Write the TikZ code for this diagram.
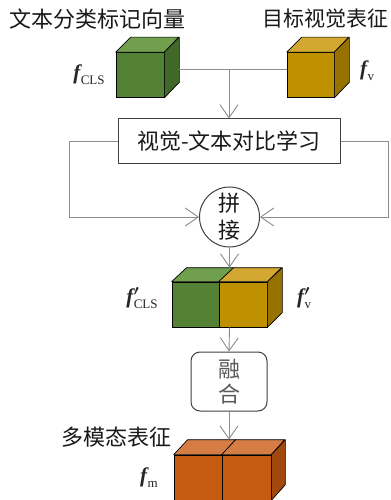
\documentclass[tikz,border=0pt]{standalone}
\usepackage{fontspec}
\setmainfont{Liberation Serif}
\newfontfamily\cjk{Noto Sans CJK SC}
\usetikzlibrary{arrows.meta,calc}
\definecolor{linegray}{HTML}{8C8C8C}
\definecolor{edgegray}{HTML}{404040}
\definecolor{gFront}{HTML}{548235}
\definecolor{gTop}{HTML}{70A04E}
\definecolor{gRight}{HTML}{3F6829}
\definecolor{yFront}{HTML}{BF9000}
\definecolor{yTop}{HTML}{D2A832}
\definecolor{yRight}{HTML}{977200}
\definecolor{oFront}{HTML}{C55A11}
\definecolor{oTop}{HTML}{D57D45}
\definecolor{oRight}{HTML}{A0480D}
\newcommand{\mkf}[1]{{\bfseries\itshape f}\kern0.5bp{\fontsize{13bp}{13bp}\selectfont\raisebox{-5bp}{#1}}}
\newcommand{\mkfp}[1]{{\bfseries\itshape f}\kern0.5bp\rlap{\raisebox{1bp}{$\boldsymbol{'}$}}{\fontsize{13bp}{13bp}\selectfont\raisebox{-5bp}{#1}}}
\usepackage{amsmath}
\tikzset{
  conn/.style={draw=linegray, line width=0.9bp},
  arr/.style={conn, -{Straight Barb[length=13bp,width=18bp,line width=0.9bp]}},
  face/.style={draw=black, line width=0.7bp, inner sep=0pt, minimum height=45bp},
  sideface/.style={draw=black, line width=0.7bp, line join=round},
  cn/.style={font=\cjk\fontsize{22bp}{26bp}\selectfont, text=black!90},
  flab/.style={font=\fontsize{21bp}{22bp}\selectfont, text=black!85, inner sep=0pt},
  boxed/.style={draw=edgegray, line width=1bp},
}
\begin{document}
\begin{tikzpicture}[x=1bp,y=-1bp]
\useasboundingbox (0,0) rectangle (390,500);
\clip (0,0) rectangle (390,500);
\fill[white] (0,0) rectangle (390,500);

% titles
\node[cn] (t1) at (97.5,19) {文本分类标记向量};
\node[cn, font=\cjk\fontsize{21bp}{25bp}\selectfont] (t2) at (325.5,19) {目标视觉表征};

% green cube
\node[face, fill=gFront, minimum width=48bp] (cls) at (140,75) {};
\fill[gTop, sideface] (cls.north west) -- ++(15,-15) -- ++(48,0) -- (cls.north east) -- cycle;
\fill[gRight, sideface] (cls.north east) -- ++(15,-15) -- ++(0,45) -- (cls.south east) -- cycle;
\node[flab] (lcls) at (89,75) {\mkf{CLS}};

% gold cube
\node[face, fill=yFront, minimum width=47bp] (vis) at (310.5,75) {};
\fill[yTop, sideface] (vis.north west) -- ++(15,-15) -- ++(47,0) -- (vis.north east) -- cycle;
\fill[yRight, sideface] (vis.north east) -- ++(15,-15) -- ++(0,45) -- (vis.south east) -- cycle;
\node[flab] (lv) at (367,71) {\mkf{v}};

% contrastive box
\node[boxed, cn, minimum width=222bp, minimum height=45bp, inner sep=0pt] (con) at (229,141.5) {视觉-文本对比学习};

% connectors top
\coordinate (gr) at ($(cls.east)+(15,-6)$);
\draw[conn] (gr) -- (gr -| vis.west);
\draw[arr] (gr -| con.north) -- (con.north);

% concat circle
\node[boxed, circle, minimum size=60bp, inner sep=0pt, cn, align=center, font=\cjk\fontsize{22bp}{27bp}\selectfont] (cat) at (229.5,217) {拼\\接};
\draw[arr] (con.west) -- ++(-48,0) |- (cat.west);
\draw[arr] (con.east) -- ++(48,0) |- (cat.east);

% concatenated cube
\node[face, fill=gFront, minimum width=47bp] (ccls) at (195.5,304.5) {};
\node[face, fill=yFront, minimum width=48bp] (cv) at (243,304.5) {};
\fill[gTop, sideface] (ccls.north west) -- ++(15,-14) -- ++(47,0) -- (ccls.north east) -- cycle;
\fill[yTop, sideface] (cv.north west) -- ++(15,-14) -- ++(48,0) -- (cv.north east) -- cycle;
\fill[yRight, sideface] (cv.north east) -- ++(15,-14) -- ++(0,45) -- (cv.south east) -- cycle;
\node[flab] (lccls) at (142,298) {\mkfp{CLS}};
\node[flab] (lcv) at (304,298) {\mkfp{v}};
\coordinate (cattop) at ($(ccls.north)+(0,-14)$);
\draw[arr] (cat.south) -- (cat.south |- cattop);

% fusion box
\node[draw=edgegray, line width=1bp, rounded corners=9bp, minimum width=76bp, minimum height=59bp, inner sep=0pt, align=center, font=\cjk\fontsize{22bp}{25bp}\selectfont, text=black!65] (fus) at (229,381.5) {融\\合};
\draw[arr] (cat.south |- ccls.south) -- (fus.north);

% multimodal cube
\node[cn] (t3) at (116.5,437.5) {多模态表征};
\node[face, fill=oFront, minimum width=48bp] (om1) at (198,477.5) {};
\node[face, fill=oFront, minimum width=49bp] (om2) at (246.5,477.5) {};
\fill[oTop, sideface] (om1.north west) -- ++(14,-15) -- ++(48,0) -- (om1.north east) -- cycle;
\fill[oTop, sideface] (om2.north west) -- ++(14,-15) -- ++(49,0) -- (om2.north east) -- cycle;
\fill[oRight, sideface] (om2.north east) -- ++(14,-15) -- ++(0,45) -- (om2.south east) -- cycle;
\node[flab] (lm) at (149,478) {\mkf{m}};
\coordinate (otop) at ($(om1.north)+(0,-15)$);
\draw[arr] (fus.south) -- (fus.south |- otop);
\end{tikzpicture}
\end{document}
